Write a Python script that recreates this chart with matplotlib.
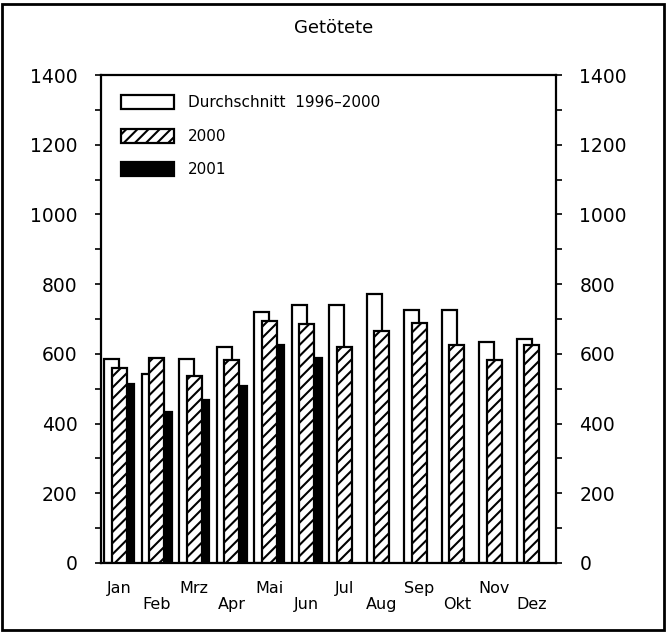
#!/usr/bin/env python3
"""Getötete je Monat: Durchschnitt 1996-2000, 2000, 2001."""
import matplotlib
matplotlib.use("Agg")
import matplotlib.pyplot as plt
import numpy as np
from matplotlib.patches import Rectangle
from matplotlib.ticker import MultipleLocator

months = ["Jan", "Feb", "Mrz", "Apr", "Mai", "Jun",
          "Jul", "Aug", "Sep", "Okt", "Nov", "Dez"]
avg_96_00 = [586, 543, 586, 620, 720, 740, 740, 771, 726, 726, 634, 643]
y2000 = [560, 589, 537, 583, 694, 686, 620, 666, 689, 626, 583, 626]
y2001 = [514, 434, 469, 509, 626, 589]

plt.rcParams["hatch.linewidth"] = 1.5
fig = plt.figure(figsize=(6.67, 6.33), dpi=100)
ax = fig.add_axes([0.1514, 0.1106, 0.682, 0.7709])

x = np.arange(len(months))
w = 0.4
lw = 1.6
ax.bar(x - w / 2, avg_96_00, w, color="white", edgecolor="black",
       linewidth=lw, zorder=1, label="Durchschnitt  1996–2000")
ax.bar(x[:len(y2001)] + w / 2, y2001, w, color="black", edgecolor="black",
       linewidth=lw, zorder=2, label="2001")
ax.bar(x, y2000, w, color="white", edgecolor="black", hatch="///",
       linewidth=lw, zorder=3, label="2000")

ax.set_xlim(-0.49, 11.64)
ax.set_ylim(0, 1400)
ax.yaxis.set_major_locator(MultipleLocator(200))
ax.yaxis.set_minor_locator(MultipleLocator(100))
ax.tick_params(axis="y", which="both", direction="out", length=4, width=1.2,
               labelsize=13.5, left=True, right=True, labelleft=True,
               labelright=True, pad=13)
ax.set_xticks(x)
ax.set_xticklabels([m if i % 2 == 0 else "\n" + m for i, m in enumerate(months)],
                   fontsize=11.5, linespacing=1.1)
ax.tick_params(axis="x", length=0, pad=13)
for s in ax.spines.values():
    s.set_linewidth(1.6)

handles, labels = ax.get_legend_handles_labels()
order = [0, 2, 1]
ax.legend([handles[i] for i in order], [labels[i] for i in order],
          loc="upper left", bbox_to_anchor=(0.0, 1.0), frameon=False,
          fontsize=11, handlelength=3.5, handleheight=1.05,
          labelspacing=1.2, handletextpad=0.9, borderaxespad=0.9)

fig.text(0.5, 0.955, "Getötete", ha="center", va="center", fontsize=13)
fig.add_artist(Rectangle((0.003, 0.004), 0.992, 0.99, transform=fig.transFigure,
                         fill=False, edgecolor="black", linewidth=2))

fig.savefig("out.png", dpi=100)
